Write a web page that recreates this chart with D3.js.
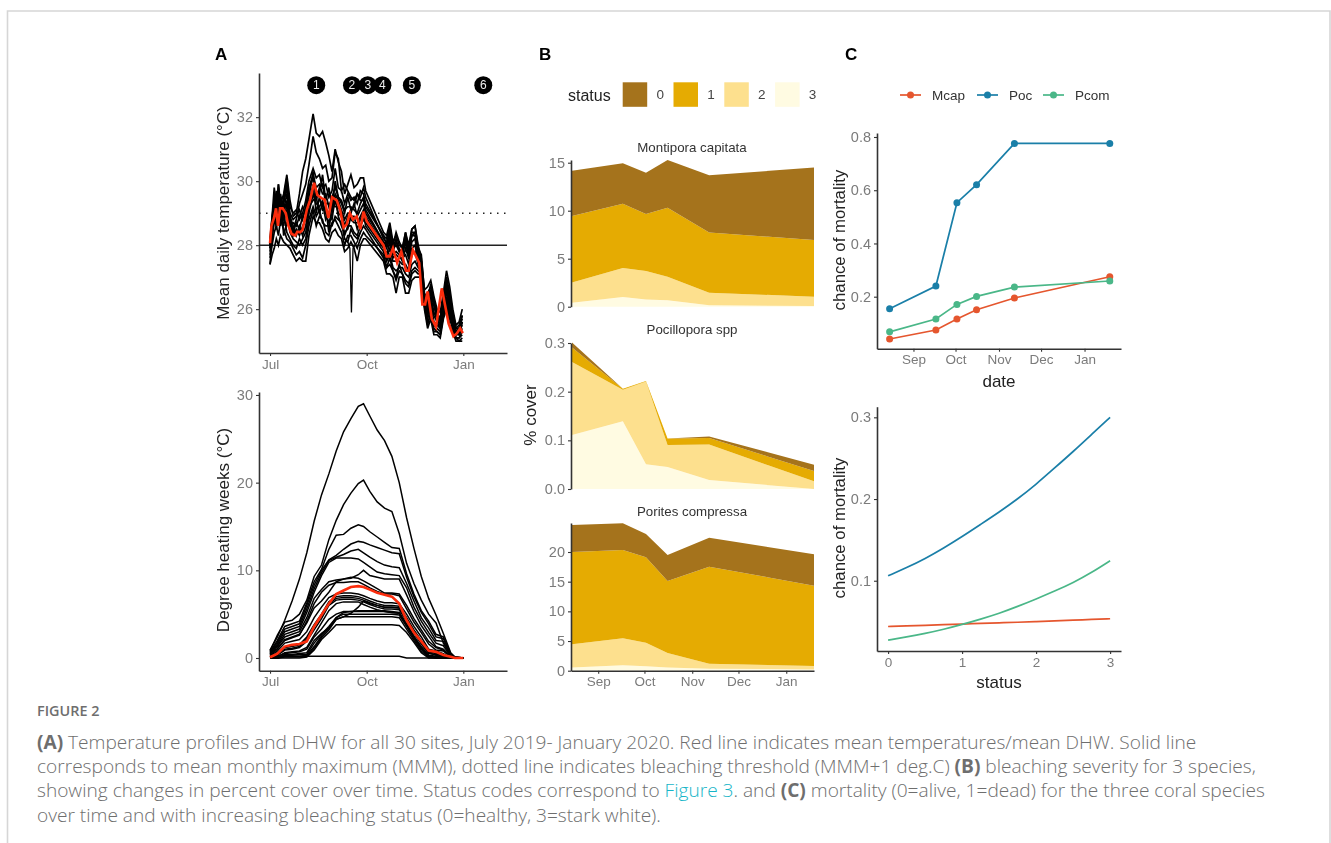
<!DOCTYPE html>
<html>
<head>
<meta charset="utf-8">
<script src="https://cdn.jsdelivr.net/npm/d3@7"></script>
<style>
  body { margin: 0; background: #fff; }
  text { font-family: "Liberation Sans", Arial, sans-serif; }
  .caption { font-family: "Open Sans", sans-serif; font-size: 19.1px; font-weight: 300; fill: #6e6e6e; }
</style>
</head>
<body>
<div id="chart-area"></div>
<script>
// panel A, temperature: days since 1 Jul 2019
const siteDays = [0,2,4,6,8,10,13,16,19,22,25,28,31,34,37,41,44,47,50,53,56,59,62,65,68,71,74,77,80,83,86,89,91,
  108,111,114,117,120,123,126,129,132,135,138,
  141,144,147,150,153,156,159,162,165,168,171,174,177,180,183];

const siteTemps = [
  [28.2,28.9,29.4,29.0,29.9,29.3,29.6,30.2,29.4,28.9,29.0,29.6,30.3,30.7,31.3,32.1,31.5,31.4,31.55,31.2,30.8,30.3,31.0,30.6,30.3,29.6,29.9,30.2,29.8,29.9,30.1,30.1,29.7,
   28.4,28.3,28.7,28.1,28.3,28.0,27.9,28.4,27.8,28.5,28.6,
   28.0,27.6,26.6,26.7,26.9,26.4,26.0,25.9,26.5,27.2,26.7,26.0,25.5,25.6,26.0],
  [27.9,28.7,29.2,29.7,29.1,29.6,29.0,29.4,28.7,28.5,28.8,29.3,29.6,29.9,30.5,31.4,30.9,30.7,30.4,30.5,30.0,30.1,30.9,30.7,29.7,29.9,29.7,29.5,29.4,29.6,29.5,29.8,29.5,
   28.2,28.1,28.4,27.9,28.2,27.8,27.7,28.2,27.7,28.4,28.4,
   27.8,27.5,26.4,26.5,26.7,26.2,25.9,25.7,26.4,27.0,26.5,25.9,25.4,25.5,25.8],
  [28.0,28.9,29.8,29.2,29.8,29.0,29.5,30.1,29.2,29.0,29.1,28.8,29.0,29.4,30.0,30.4,30.1,30.2,29.8,29.9,29.5,29.7,30.4,29.8,29.7,29.3,29.6,29.4,29.5,29.3,29.7,29.6,29.3,
   28.3,28.2,28.6,28.0,28.4,28.1,27.9,28.4,28.0,28.5,28.6,
   27.9,27.7,26.5,26.3,26.8,26.3,25.8,25.7,26.3,26.9,26.4,25.8,25.4,25.4,25.7],
  [27.4,28.3,29.5,28.8,29.9,28.7,29.3,29.8,28.9,28.4,28.7,28.5,28.9,29.1,29.7,30.1,29.7,29.6,30.2,29.4,29.8,29.2,30.0,29.5,29.3,29.0,29.5,29.1,29.2,29.6,29.4,29.4,29.1,
   28.1,28.0,28.3,27.8,28.1,27.9,27.7,28.1,27.6,28.3,28.3,
   27.7,27.4,26.2,26.2,26.5,26.1,25.7,25.5,26.1,26.7,26.2,25.6,25.3,25.2,25.6],
  [27.4,27.7,27.9,28.2,28.0,28.3,28.1,28.0,27.9,27.7,27.5,27.6,27.5,27.5,28.3,28.9,28.7,28.7,28.5,28.2,28.1,28.4,28.5,28.3,28.2,27.8,27.9,28.1,27.9,27.5,28.0,28.2,28.2,
   27.5,27.1,27.1,27.0,26.5,27.0,27.0,26.5,26.5,26.9,27.0,
   27.0,27.0,26.0,25.4,25.7,25.2,25.2,25.1,25.7,26.0,25.5,25.3,25.0,25.0,25.0],
  [27.6,28.0,28.4,28.6,28.3,28.8,28.5,28.2,28.1,27.9,27.7,27.8,27.6,28.0,28.6,29.1,28.6,28.9,28.8,28.4,28.3,28.7,28.8,28.6,28.4,28.0,28.3,28.3,28.1,27.9,28.2,28.4,28.3,
   27.7,27.3,27.4,27.2,26.9,27.2,27.1,26.8,26.7,27.1,27.2,
   27.1,27.1,26.1,25.5,25.9,25.3,25.3,25.2,25.8,26.1,25.7,25.4,25.1,25.1,25.2],
  [27.8,28.4,28.9,29.4,28.6,29.2,28.8,29.1,28.4,28.2,28.1,28.0,28.2,28.4,29.0,29.6,29.3,29.2,29.4,29.0,28.7,29.0,29.4,29.0,28.9,28.3,28.6,28.6,28.4,28.3,28.6,28.8,28.7,
   27.9,27.6,27.9,27.5,27.5,27.5,27.4,27.4,27.2,27.7,27.8,
   27.4,27.2,26.2,25.8,26.2,25.6,25.5,25.4,26.0,26.4,26.0,25.6,25.2,25.2,25.4],
  [28.1,28.6,29.1,28.5,29.3,28.9,28.6,29.3,28.7,28.3,28.5,28.3,28.6,28.8,29.3,29.9,29.0,29.5,29.1,29.2,28.4,29.3,29.2,29.2,29.0,28.6,28.9,28.8,28.7,28.7,28.9,29.1,28.9,
   28.0,27.7,28.1,27.6,27.7,27.6,27.6,27.7,27.4,27.9,28.0,
   27.5,27.3,26.3,25.9,26.3,25.8,25.6,25.4,26.2,26.5,26.1,25.7,25.2,25.3,25.5],
  [27.7,28.2,28.7,29.0,28.8,29.5,28.3,28.7,28.9,28.6,28.3,28.6,28.3,28.6,29.2,29.4,29.5,29.0,29.3,28.8,29.0,28.8,29.5,28.9,28.6,28.4,28.5,28.9,28.9,28.5,28.8,29.0,28.6,
   27.8,27.5,27.7,27.3,27.2,27.3,27.3,27.1,27.0,27.4,27.5,
   27.3,27.2,26.2,25.7,26.0,25.5,25.4,25.3,25.9,26.3,25.9,25.5,25.1,25.1,25.3],
  [28.0,28.8,29.4,29.5,29.1,29.4,29.1,29.6,29.0,28.8,28.9,29.1,28.8,29.2,29.8,30.2,29.8,29.9,29.6,29.6,29.2,29.5,29.8,29.5,29.4,29.1,29.2,29.2,29.1,29.0,29.3,29.5,29.2,
   28.3,28.0,28.5,27.9,28.0,27.8,27.8,28.2,27.9,28.3,28.4,
   27.8,27.5,26.4,26.1,26.6,26.2,25.8,25.6,26.3,26.8,26.3,25.8,25.3,25.4,25.8],
  [27.9,28.5,29.0,28.9,29.5,28.6,29.0,28.4,28.2,28.0,27.9,28.2,28.0,28.2,28.8,29.2,28.9,29.1,28.7,28.6,28.6,28.6,28.9,28.8,28.7,28.2,28.1,28.5,28.3,28.2,28.4,28.6,28.5,
   27.6,27.3,27.6,27.2,27.0,27.4,27.1,26.9,26.8,27.2,27.3,
   27.2,27.1,26.1,25.6,25.8,25.4,25.3,25.2,25.8,26.2,25.8,25.4,25.1,25.0,25.1],
  [28.0,28.7,29.3,28.7,29.7,29.1,29.4,29.9,28.6,28.7,28.6,28.9,29.2,29.0,29.5,30.3,29.4,29.8,29.9,29.3,29.3,29.1,29.6,29.4,29.1,28.8,29.0,29.0,29.3,28.9,29.1,29.3,29.0,
   28.1,27.9,28.2,27.7,27.8,27.7,27.5,27.9,27.6,28.1,28.2,
   27.6,27.4,26.3,26.0,26.4,25.9,25.7,25.5,26.2,26.6,26.2,25.7,25.3,25.3,25.6]
];

// the one logger that dropped out in September
const dipDays = [71,74,76,77.5,79,83,86];
const dipTemps = [28.2,28.1,27.9,25.9,27.9,28.1,28.4];

const meanTempDays = [0,1.3,3.8,5.7,7.6,9.5,12,15,17.5,20.6,24,26,28.6,31,35,38,42,45,49,52,55.5,59,63.5,66.7,70,73,76,79,82.5,86,89,92,
  108,111,114,117,121,125,129.5,132,136,139,142,145,147.6,150,154,158,163.5,170,174.6,178,181,183.5];
const meanTemps = [28.06,28.6,28.85,29.15,28.6,29.15,29.15,29.0,28.6,28.35,28.3,28.42,28.4,28.48,29.1,29.4,29.95,29.57,29.47,29.42,28.85,29.5,29.4,29.1,28.55,28.65,29.0,28.8,28.9,28.5,29.05,28.75,
  28.0,27.65,27.65,27.9,27.45,27.8,27.2,27.2,27.85,27.65,27.45,26.15,26.15,26.55,25.7,25.45,26.65,25.55,25.15,25.25,25.4,25.25];

const surveyDays = [44,78,93,107.6,135,203];
const surveyLabels = ["1","2","3","4","5","6"];

// panel A, degree heating weeks
const dhwDays = [0,7,14,21,28,35,42,49,56,63,70,77,84,89,95,102,109,116,123,130,137,144,151,158,165,172,176,184];
const siteDhw = [
  [.9,2.4,4.3,6.5,9,12,15.6,18.6,21,23.6,25.8,27.3,28.7,29,27.6,26,24.8,23,20,16,12.5,9.3,6.8,4.9,2.8,.6,.1,0],
  [.8,2.6,4.1,4.3,5,6.6,9.3,10.6,13.5,15.7,17.5,18.8,19.9,20.3,19,17.8,17.1,16.7,14.2,10.8,8.5,6.6,5,4,1.7,.3,.1,0],
  [.7,2.0,3.6,3.9,4.2,6.3,8.7,10.1,12.4,14,14.1,14.8,15.2,15,14.4,13.8,13.2,12.6,12.5,9.6,7.3,5.4,4.2,2.7,2.4,.5,.1,0],
  [.6,1.8,3.3,3.6,3.9,6,8.3,10,11.2,11.7,12.4,13,13.3,13.2,12.9,12.6,12.3,12,11.9,9.2,7,5.2,3.9,2.4,2.2,.4,.1,0],
  [.5,1.6,3,3.3,3.6,5.6,7.9,9.7,11.1,11.5,11.8,12.2,12.4,12,11.5,11,10.6,10.4,10.3,8.5,6.5,4.6,3.4,2,1.9,.3,0,0],
  [.4,1.4,2.7,3,3.3,5.2,7.5,9.4,10.9,11.4,11.4,11.4,11.3,10.9,10.4,9.8,9.6,9.5,9.4,8,5.8,4.2,2.9,1.7,1.4,.2,0,0],
  [.3,1,2.1,2.4,2.7,4,5.7,6.5,7.5,8.7,9.0,9.1,9.5,10,9.4,9.2,9,9,9,7.2,5.3,3.7,2.5,1.3,1,.2,0,0],
  [.9,1.3,2.4,2.7,3,4.6,6.8,7.8,8.7,8.9,9,9.2,9.1,8.8,8.4,7.9,7.4,7.4,7.3,6,4.5,3.2,1.9,1.2,.9,.1,0,0],
  [.5,1.1,2,2.3,2.6,4.2,6.2,7.5,8.3,8.6,8.6,8.7,8.7,8.4,8,7.6,7.3,7.3,7.1,5.6,4.1,2.9,1.6,.9,.8,.1,0,0],
  [.2,.8,1.7,1.9,2.1,3,4.6,5.8,6.9,7.3,7.4,7.4,7.3,7.1,6.8,6.5,6.3,6.3,6.2,5,3.6,2.4,1,.8,.5,0,0,0],
  [.1,.6,1.2,1.3,1.5,2.4,3.8,5,6.4,7,7.1,7.1,7,6.8,6.5,6.2,6,6,5.9,4.6,3.2,2,.8,.6,.3,0,0,0],
  [0,.3,.9,1,1.2,1.9,3.2,4.5,6,6.6,6.7,6.7,6.6,6.4,6.1,5.8,5.6,5.6,5.5,4.2,2.8,1.6,.5,.4,.2,0,0,0],
  [0,.1,.6,.7,.8,1.2,2.6,4,5.4,6.2,6.4,6.4,6.4,6.1,5.8,5.5,5.3,5.2,5.1,3.8,2.4,1.2,.3,.2,.1,0,0,0],
  [0,0,.4,.4,.5,.6,2,2.8,3.4,4.4,4.7,5.1,5.8,6.5,6.2,6,5.8,5.8,5.7,4.4,3,1.8,.6,.3,.1,0,0,0],
  [0,0,.3,.3,.4,.4,1.7,2.7,3.6,4.6,5.2,5.3,5.4,5.4,5.4,5.4,5.4,5.3,5.2,3.9,2.5,1.3,.3,.1,0,0,0,0],
  [0,0,.2,.2,.2,.3,1.3,2.5,3.4,4.6,5,5,5,5,5,5,5,5,4.9,3.6,2.2,1,.2,0,0,0,0,0],
  [0,0,.1,.1,.1,.2,1.1,2.3,3.2,4.4,4.7,4.7,4.7,4.7,4.7,4.7,4.7,4.7,4.6,3.3,2,.8,.1,0,0,0,0,0],
  [0,0,0,0,0,.1,.9,2.1,2.9,3.8,3.8,3.8,3.8,3.8,3.8,3.8,3.8,3.8,3.7,2.9,1.8,.6,0,0,0,0,0,0],
  [0,0,.2,.2,.2,.2,.2,.2,.2,.2,.2,.2,.2,.2,.2,.2,.2,.2,.2,0,0,0,0,0,0,0,0,0],
  [0,.2,.5,.6,.7,1,2.4,3.3,4.4,5,5.3,5.3,5.3,5.3,5.3,5.3,5.3,5.2,5.1,3.7,2.3,1.1,.2,.1,0,0,0,0],
  [.1,.5,1.0,1.1,1.3,2.2,3.6,4.8,6.2,6.8,6.9,6.9,6.8,6.6,6.3,6,5.8,5.8,5.7,4.4,3,1.8,.7,.5,.2,0,0,0]
];
const meanDhw = [.08,.5,1.3,1.5,1.6,1.9,3.6,4.9,6.2,7.3,7.7,8.1,8.2,8.1,7.8,7.45,7.2,7,6.2,4.3,2.9,1.9,.85,.7,.35,.15,0,0];

// panel B, % cover per bleaching status at each survey
const surveyDates = ["2019-08-15","2019-09-17","2019-10-02","2019-10-16","2019-11-12","2020-01-19"];
const statusCodes = ["0","1","2","3"];
const statusColors = ["#a5731c","#e5ab02","#fde08e","#fffbe2"];

const mcapCover = {
  "3": [.42,1.0,.76,.66,.14,.07],
  "2": [2.11,3.03,2.96,2.47,1.32,.97],
  "1": [6.91,6.70,5.93,7.18,6.28,5.90],
  "0": [4.73,4.20,4.31,4.97,5.94,7.57]
};
const pocCover = {
  "3": [.111,.139,.051,.045,.0185,0],
  "2": [.150,.065,.170,.0456,.0728,.0158],
  "1": [.03,.002,.001,.0134,.0137,.021],
  "0": [.01,0,0,0,.003,.013]
};
const pcomCover = {
  "3": [.56,.9,.73,.56,.34,.22],
  "2": [3.88,4.55,3.99,2.42,.84,.57],
  "1": [15.56,14.89,14.38,12.13,16.35,13.54],
  "0": [4.55,4.49,3.93,4.38,4.87,5.27]
};

// panel C
const speciesNames = ["Mcap","Poc","Pcom"];
const speciesColors = ["#e5562e","#1a7fa8","#4ab788"];
const mortalityByDate = [
  [.041,.075,.116,.151,.195,.275],
  [.155,.24,.553,.621,.776,.776],
  [.068,.116,.171,.201,.236,.259]
];
const statusGrid = [0,.25,.5,.75,1,1.25,1.5,1.75,2,2.25,2.5,2.75,3];
const mortalityByStatus = [
  [.044,.0447,.0454,.0462,.047,.0477,.0485,.0492,.05,.0508,.0517,.0526,.0535],
  [.106,.116,.127,.140,.154,.169,.184,.2,.218,.238,.258,.279,.30],
  [.0273,.0312,.0355,.0405,.0465,.053,.06,.0685,.0776,.0872,.0975,.110,.1245]
];

const captionLines = [
  [["(A)",true],[" Temperature profiles and DHW for all 30 sites, July 2019- January 2020. Red line indicates mean temperatures/mean DHW. Solid line",false]],
  [["corresponds to mean monthly maximum (MMM), dotted line indicates bleaching threshold (MMM+1 deg.C) ",false],["(B)",true],[" bleaching severity for 3 species,",false]],
  [["showing changes in percent cover over time. Status codes correspond to ",false],["Figure 3",false,"#17b5c8"],[". and ",false],["(C)",true],[" mortality (0=alive, 1=dead) for the three coral species",false]],
  [["over time and with increasing bleaching status (0=healthy, 3=stark white).",false]]
];

const canvasWidth = 1331;
const canvasHeight = 843;
const axisColor = "#333";
const tickColor = "#7b7b7b";

const page = d3.select("#chart-area").append("svg").attr("width", canvasWidth).attr("height", canvasHeight).style("display", "block");

// page frame
page.append("path").attr("d", "M7.5,843V11H1330V843").attr("fill", "none").attr("stroke", "#d6d6d6").attr("stroke-width", 1.6);

// the figure is a slightly soft raster in the source
const canvas = page.append("g").style("filter", "blur(0.4px)");

const july = new Date(2019, 6, 1);
const dayToDate = d => d3.timeDay.offset(july, Math.floor(d));

function styleAxis(g, fontSize) {
  g.selectAll(".domain").attr("stroke", axisColor).attr("stroke-width", 1.6);
  g.selectAll(".tick line").attr("stroke", axisColor).attr("stroke-width", 1.1);
  g.selectAll(".tick text").attr("fill", tickColor).attr("font-size", fontSize);
}

function yAxisAt(x, scale, values, format) {
  canvas.append("g").attr("transform", `translate(${x},0)`)
    .call(d3.axisLeft(scale).tickValues(values).tickFormat(format).tickSize(3).tickSizeOuter(0))
    .call(styleAxis, 14.5);
}

function xAxisAt(y, scale, values, format) {
  canvas.append("g").attr("transform", `translate(0,${y})`)
    .call(d3.axisBottom(scale).tickValues(values).tickFormat(format).tickSize(3).tickSizeOuter(0))
    .call(styleAxis, 13.5);
}

function yTitle(x, y, label, size) {
  canvas.append("text").attr("transform", `translate(${x},${y}) rotate(-90)`)
    .attr("text-anchor", "middle").attr("font-size", size).attr("fill", "#222").text(label);
}

function panelLabel(x, label) {
  canvas.append("text").attr("x", x).attr("y", 60).attr("font-size", 17).attr("font-weight", "bold").attr("fill", "#000").text(label);
}

panelLabel(215, "A");
panelLabel(539, "B");
panelLabel(845, "C");

// ---- A ----
const aX = d3.scaleTime().domain([new Date(2019, 5, 20, 12), new Date(2020, 1, 11, 14)]).range([259, 507]);
const tempY = d3.scaleLinear().domain([24.63, 33.38]).range([353, 73]);
const dhwY = d3.scaleLinear().domain([-1.45, 30.34]).range([670.7, 392]);
const aTicks = [july, new Date(2019, 9, 1), new Date(2020, 0, 1)];
const aFormat = d3.timeFormat("%b");

const tempLine = d3.line().x(p => aX(dayToDate(p[0])) + (p[0] % 1) * 1.05).y(p => tempY(p[1]));
const dhwLine = d3.line().x(p => aX(dayToDate(p[0]))).y(p => dhwY(p[1]));

xAxisAt(353, aX, aTicks, aFormat);
yAxisAt(259, tempY, [26, 28, 30, 32], d3.format("d"));
xAxisAt(670.7, aX, aTicks, aFormat);
yAxisAt(259, dhwY, [0, 10, 20, 30], d3.format("d"));

yTitle(229, 213, "Mean daily temperature (°C)", 17);
yTitle(229, 530, "Degree heating weeks (°C)", 17);

canvas.append("line").attr("x1", 259).attr("x2", 507).attr("y1", tempY(28)).attr("y2", tempY(28)).attr("stroke", "#222").attr("stroke-width", 1.5);
canvas.append("line").attr("x1", 259).attr("x2", 507).attr("y1", tempY(29)).attr("y2", tempY(29)).attr("stroke", "#222").attr("stroke-width", 1.5).attr("stroke-dasharray", "1.5 5.5");

siteTemps.forEach(temps => {
  canvas.append("path").attr("d", tempLine(d3.zip(siteDays, temps))).attr("fill", "none").attr("stroke", "#000").attr("stroke-width", 1.7);
});
canvas.append("path").attr("d", tempLine(d3.zip(dipDays, dipTemps))).attr("fill", "none").attr("stroke", "#000").attr("stroke-width", 1.3);
canvas.append("path").attr("d", tempLine(d3.zip(meanTempDays, meanTemps))).attr("fill", "none").attr("stroke", "#fb2d0d").attr("stroke-width", 2.6);

const surveyMarks = canvas.selectAll(".survey").data(surveyDays).enter().append("g").attr("class", "survey")
  .attr("transform", d => `translate(${aX(dayToDate(d))},${tempY(33)})`);
surveyMarks.append("circle").attr("r", 9).attr("fill", "#000");
surveyMarks.append("text").attr("text-anchor", "middle").attr("y", 4.2).attr("font-size", 12).attr("fill", "#eee").text((d, i) => surveyLabels[i]);

siteDhw.forEach(vals => {
  canvas.append("path").attr("d", dhwLine(d3.zip(dhwDays, vals))).attr("fill", "none").attr("stroke", "#000").attr("stroke-width", 1.5);
});
canvas.append("path").attr("d", dhwLine(d3.zip(dhwDays, meanDhw))).attr("fill", "none").attr("stroke", "#fb2d0d").attr("stroke-width", 2.6);

// ---- B ----
const parseDate = d3.timeParse("%Y-%m-%d");
const surveys = surveyDates.map(parseDate);
const bX = d3.scaleTime().domain([surveys[0], surveys[5]]).range([572, 814]);
const stackOrder = ["3", "2", "1", "0"];

function coverPanel(title, titleY, cover, scaleY, ticks, format, axisTop) {
  const rows = surveys.map((date, i) => {
    const row = { date: date };
    stackOrder.forEach(s => { row[s] = cover[s][i]; });
    return row;
  });
  const layers = d3.stack().keys(stackOrder)(rows);
  const area = d3.area().x(d => bX(d.data.date)).y0(d => scaleY(d[0])).y1(d => scaleY(d[1]));
  canvas.selectAll(null).data(layers).enter().append("path")
    .attr("d", area)
    .attr("fill", d => statusColors[statusCodes.indexOf(d.key)]);
  canvas.append("g").attr("transform", "translate(571,0)")
    .call(d3.axisLeft(scaleY.copy().domain([scaleY.invert(scaleY.range()[0]), scaleY.invert(axisTop)]).range([scaleY.range()[0], axisTop]))
      .tickValues(ticks).tickFormat(format).tickSize(3).tickSizeOuter(0))
    .call(styleAxis, 14.5);
  canvas.append("text").attr("x", 692).attr("y", titleY).attr("text-anchor", "middle").attr("font-size", 13.3).attr("fill", "#333").text(title);
}

const mcapY = d3.scaleLinear().domain([0, 15]).range([306.7, 162.7]);
const pocY = d3.scaleLinear().domain([0, .3]).range([489, 343]);
const pcomY = d3.scaleLinear().domain([0, 20]).range([670.7, 552]);

coverPanel("Montipora capitata", 151.5, mcapCover, mcapY, [0, 5, 10, 15], d3.format("d"), 160);
coverPanel("Pocillopora spp", 333.5, pocCover, pocY, [0, .1, .2, .3], d3.format(".1f"), 343);
coverPanel("Porites compressa", 515.5, pcomCover, pcomY, [0, 5, 10, 15, 20], d3.format("d"), 523);

const monthTicksB = [new Date(2019, 8, 1), new Date(2019, 9, 1), new Date(2019, 10, 1), new Date(2019, 11, 1), new Date(2020, 0, 1)];
xAxisAt(670.7, bX.copy().domain([bX.invert(571), surveys[5]]).range([571, 814]), monthTicksB, aFormat);

yTitle(536, 415, "% cover", 17);

// status legend
canvas.append("text").attr("x", 568).attr("y", 100.5).attr("font-size", 16).attr("fill", "#222").text("status");
const statusKeys = canvas.selectAll(".status-key").data(statusCodes).enter().append("g").attr("class", "status-key")
  .attr("transform", (d, i) => `translate(${622.7 + i * 50.8},82.3)`);
statusKeys.append("rect").attr("width", 24.5).attr("height", 24.5).attr("fill", (d, i) => statusColors[i]);
statusKeys.append("text").attr("x", 37.5).attr("y", 17.2).attr("text-anchor", "middle").attr("font-size", 13.5).attr("fill", "#444").text(d => d);

// ---- C ----
const cDateX = d3.scaleTime().domain([new Date(2019, 7, 6), new Date(2020, 0, 27)]).range([877, 1121]);
const cDateY = d3.scaleLinear().domain([.0046, .815]).range([348.7, 133]);
const cStatusX = d3.scaleLinear().domain([-.15, 3.147]).range([877, 1121]);
const cStatusY = d3.scaleLinear().domain([.014, .313]).range([651, 406.7]);

xAxisAt(348.7, cDateX, monthTicksB, aFormat);
yAxisAt(877, cDateY, [.2, .4, .6, .8], d3.format(".1f"));
xAxisAt(651, cStatusX, [0, 1, 2, 3], d3.format("d"));
yAxisAt(877, cStatusY, [.1, .2, .3], d3.format(".1f"));

const dateLine = d3.line().x(p => cDateX(p[0])).y(p => cDateY(p[1]));
const statusLine = d3.line().curve(d3.curveBasis).x(p => cStatusX(p[0])).y(p => cStatusY(p[1]));

speciesNames.forEach((name, s) => {
  const pts = d3.zip(surveys, mortalityByDate[s]);
  canvas.append("path").attr("d", dateLine(pts)).attr("fill", "none").attr("stroke", speciesColors[s]).attr("stroke-width", 1.7);
  canvas.selectAll(null).data(pts).enter().append("circle")
    .attr("cx", p => cDateX(p[0])).attr("cy", p => cDateY(p[1])).attr("r", 3.5).attr("fill", speciesColors[s]);
  canvas.append("path").attr("d", statusLine(d3.zip(statusGrid, mortalityByStatus[s]))).attr("fill", "none").attr("stroke", speciesColors[s]).attr("stroke-width", 1.7);
});

yTitle(845, 240, "chance of mortality", 16.8);
yTitle(845, 528, "chance of mortality", 16.8);
canvas.append("text").attr("x", 999).attr("y", 386.5).attr("text-anchor", "middle").attr("font-size", 17).attr("fill", "#222").text("date");
canvas.append("text").attr("x", 999).attr("y", 687.5).attr("text-anchor", "middle").attr("font-size", 17).attr("fill", "#222").text("status");

// species legend
const speciesKeyX = d3.scaleOrdinal().domain(speciesNames).range([900, 977, 1043]);
const speciesKeys = canvas.selectAll(".species-key").data(speciesNames).enter().append("g").attr("class", "species-key")
  .attr("transform", d => `translate(${speciesKeyX(d)},95)`);
speciesKeys.append("line").attr("x2", 21).attr("stroke", (d, i) => speciesColors[i]).attr("stroke-width", 1.7);
speciesKeys.append("circle").attr("cx", 10.5).attr("r", 3.5).attr("fill", (d, i) => speciesColors[i]);
speciesKeys.append("text").attr("x", 32).attr("y", 4.8).attr("font-size", 13.5).attr("fill", "#333").text(d => d);

// ---- caption ----
page.append("text").attr("class", "caption").attr("x", 37).attr("y", 716).style("font-size", "14.4px").style("font-weight", 600).text("FIGURE 2");
captionLines.forEach((runs, i) => {
  const line = page.append("text").attr("class", "caption").attr("x", 37).attr("y", 748.5 + i * 24.4);
  runs.forEach(run => {
    line.append("tspan").style("font-weight", run[1] ? 700 : 300).style("fill", run[2] || null).text(run[0]);
  });
});
</script>
</body>
</html>
